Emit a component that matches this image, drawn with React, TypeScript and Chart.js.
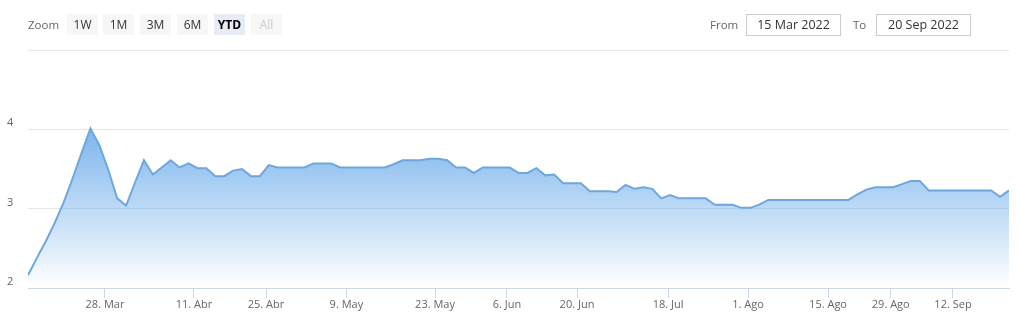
import React, { useEffect, useRef } from "react";
import { Chart, registerables } from "chart.js";

Chart.register(...registerables);

// Series values (one per trading point, ordinal spacing)
const values: number[] = [
  2.16, 2.38, 2.59, 2.82, 3.08, 3.38, 3.70, 4.01, 3.80, 3.49,
  3.13, 3.04, 3.33, 3.61, 3.43, 3.52, 3.61, 3.52, 3.57, 3.51,
  3.51, 3.41, 3.41, 3.48, 3.50, 3.41, 3.41, 3.55, 3.52, 3.52,
  3.52, 3.52, 3.57, 3.57, 3.57, 3.52, 3.52, 3.52, 3.52, 3.52,
  3.52, 3.56, 3.61, 3.61, 3.61, 3.63, 3.63, 3.61, 3.52, 3.52,
  3.45, 3.52, 3.52, 3.52, 3.52, 3.45, 3.45, 3.51, 3.42, 3.43,
  3.32, 3.32, 3.32, 3.22, 3.22, 3.22, 3.21, 3.30, 3.25, 3.27,
  3.25, 3.13, 3.17, 3.13, 3.13, 3.13, 3.13, 3.05, 3.05, 3.05,
  3.01, 3.01, 3.05, 3.11, 3.11, 3.11, 3.11, 3.11, 3.11, 3.11,
  3.11, 3.11, 3.11, 3.18, 3.24, 3.27, 3.27, 3.27, 3.31, 3.35,
  3.35, 3.23, 3.23, 3.23, 3.23, 3.23, 3.23, 3.23, 3.23, 3.15,
  3.23,
];

// Date tick labels and their positions on the ordinal (index) axis
const tickLabels: string[] = [
  "28. Mar", "11. Abr", "25. Abr", "9. May", "23. May", "6. Jun",
  "20. Jun", "18. Jul", "1. Ago", "15. Ago", "29. Ago", "12. Sep",
];
const tickIndex: number[] = [
  8.63, 18.61, 26.69, 35.7, 45.64, 53.71, 61.56, 71.77, 80.74, 89.71, 96.74, 103.72,
];

const yTicks: number[] = [2, 3, 4, 5];

const zoomButtons: string[] = ["1W", "1M", "3M", "6M", "YTD", "All"];
const fromDate = "15 Mar 2022";
const toDate = "20 Sep 2022";

const FONT = "'Open Sans', 'DejaVu Sans', sans-serif";

export default function App() {
  const canvasRef = useRef<HTMLCanvasElement | null>(null);

  useEffect(() => {
    const canvas = canvasRef.current;
    if (!canvas) return;
    const data = values.map((v, i) => ({ x: i, y: v }));
    const maxV = Math.max(...values);
    const chart = new Chart(canvas, {
      type: "line",
      data: {
        datasets: [
          {
            data,
            borderColor: "#6fa7dd",
            borderWidth: 2,
            pointRadius: 0,
            tension: 0,
            fill: "start",
            backgroundColor: (ctx: any) => {
              const c = ctx.chart;
              const area = c.chartArea;
              if (!area) return "rgba(124,181,236,0.5)";
              const top = c.scales.y.getPixelForValue(maxV);
              const g = c.ctx.createLinearGradient(0, top, 0, area.bottom);
              g.addColorStop(0, "rgba(124,181,236,1)");
              g.addColorStop(1, "rgba(124,181,236,0)");
              return g;
            },
          },
        ],
      },
      options: {
        animation: false,
        responsive: false,
        devicePixelRatio: 1,
        layout: { padding: { top: 50, right: 10, left: 7, bottom: 0 } },
        plugins: { legend: { display: false }, tooltip: { enabled: false } },
        scales: {
          x: {
            type: "linear",
            min: 0,
            max: values.length - 1,
            afterBuildTicks: (scale: any) => {
              scale.ticks = tickIndex.map((v) => ({ value: v }));
            },
            afterFit: (scale: any) => {
              scale.height = 34;
            },
            grid: {
              drawOnChartArea: false,
              drawTicks: true,
              tickLength: 10,
              color: "#ccd6eb",
            },
            border: { display: true, color: "#ccd6eb" },
            ticks: {
              autoSkip: false,
              maxRotation: 0,
              padding: 0,
              color: "#666666",
              font: { family: FONT, size: 11 },
              callback: (_v: any, i: number) => tickLabels[i],
            },
          },
          y: {
            min: 2,
            max: 5,
            afterBuildTicks: (scale: any) => {
              scale.ticks = yTicks.map((v) => ({ value: v }));
            },
            afterFit: (scale: any) => {
              scale.width = 21;
            },
            grid: { color: "#e6e6e6", drawTicks: false },
            border: { display: false },
            ticks: {
              crossAlign: "far",
              labelOffset: -6,
              padding: 0,
              color: "#666666",
              font: { family: FONT, size: 11 },
              callback: (v: any) => (v === 5 ? "" : String(v)),
            },
          },
        },
      },
    } as any);
    return () => chart.destroy();
  }, []);

  const btnLeft = [67, 103, 140, 177, 214, 251];

  return (
    <div
      style={{
        position: "fixed",
        left: 0,
        top: 0,
        width: 1019,
        height: 322,
        background: "#fff",
        overflow: "hidden",
        fontFamily: FONT,
      }}
    >
      <canvas
        ref={canvasRef}
        width={1019}
        height={322}
        style={{ position: "absolute", left: 0, top: 0, width: 1019, height: 322 }}
      />
      <div
        style={{
          position: "absolute",
          left: 28,
          top: 14,
          height: 21,
          lineHeight: "21px",
          fontSize: 11.5,
          color: "#666",
        }}
      >
        Zoom
      </div>
      {zoomButtons.map((b, i) => {
        const selected = b === "YTD";
        const disabled = b === "All";
        return (
          <div
            key={b}
            style={{
              position: "absolute",
              left: btnLeft[i],
              top: 14,
              width: 31,
              height: 21,
              lineHeight: "21px",
              textAlign: "center",
              fontSize: 12,
              background: selected ? "#e6ebf5" : "#f7f7f7",
              color: disabled ? "#cccccc" : selected ? "#000" : "#333",
              fontWeight: selected ? 700 : 400,
            }}
          >
            {b}
          </div>
        );
      })}
      <div
        style={{
          position: "absolute",
          left: 710,
          top: 14,
          height: 21,
          lineHeight: "21px",
          fontSize: 11.5,
          color: "#666",
        }}
      >
        From
      </div>
      <div
        style={{
          position: "absolute",
          left: 746,
          top: 14,
          width: 93,
          height: 20,
          lineHeight: "20px",
          border: "1px solid #cccccc",
          textAlign: "center",
          fontSize: 12.5,
          color: "#333",
        }}
      >
        {fromDate}
      </div>
      <div
        style={{
          position: "absolute",
          left: 853,
          top: 14,
          height: 21,
          lineHeight: "21px",
          fontSize: 11.5,
          color: "#666",
        }}
      >
        To
      </div>
      <div
        style={{
          position: "absolute",
          left: 876,
          top: 14,
          width: 93,
          height: 20,
          lineHeight: "20px",
          border: "1px solid #cccccc",
          textAlign: "center",
          fontSize: 12.5,
          color: "#333",
        }}
      >
        {toDate}
      </div>
    </div>
  );
}
